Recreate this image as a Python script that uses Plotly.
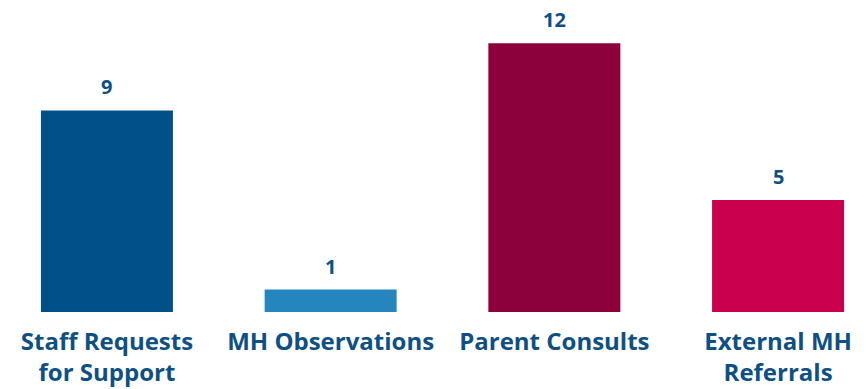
import plotly.graph_objects as go

categories = ["Staff Requests<br>for Support", "MH Observations", "Parent Consults", "External MH<br>Referrals"]
values = [9, 1, 12, 5]
colors = ["#02508a", "#2585bd", "#8c003c", "#c8004e"]
positions = [0, 1, 2, 3]

text_color = "#0e5083"
font_family = "'Open Sans', sans-serif"

fig = go.Figure(go.Bar(
    x=positions, y=values, marker_color=colors, width=0.59,
    marker_line_width=0, hoverinfo="skip"
))

for p, v in zip(positions, values):
    fig.add_annotation(x=p, y=v, text=f"<b>{v}</b>", showarrow=False,
                       yanchor="bottom", yshift=8,
                       font=dict(size=20, color=text_color, family=font_family))

fig.update_layout(
    width=868, height=389,
    margin=dict(l=0, r=0, t=0, b=77),
    plot_bgcolor="white", paper_bgcolor="white",
    showlegend=False,
    xaxis=dict(range=[-0.478, 3.402], tickvals=positions,
               ticktext=[f"<b>{c}</b>" for c in categories],
               tickfont=dict(size=24, color=text_color, family=font_family),
               showgrid=False, zeroline=False, showline=False, ticks="",
               ticklabelstandoff=13, automargin=False),
    yaxis=dict(range=[0, 13.93], visible=False, automargin=False),
)
fig.write_html("out.html", config={"displayModeBar": False},
               post_script="document.body.style.margin='0';document.body.style.overflow='hidden';")
